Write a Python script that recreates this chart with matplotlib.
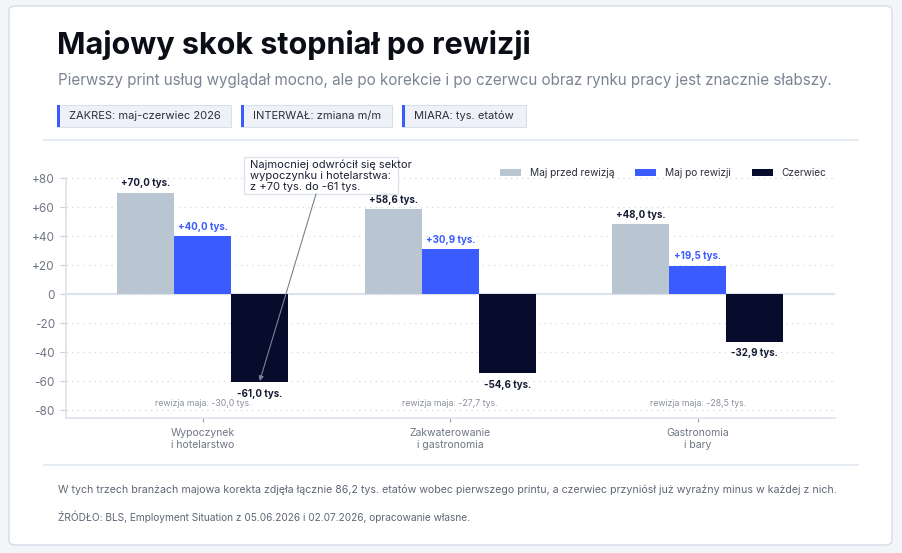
import matplotlib.pyplot as plt
import numpy as np
from matplotlib.patches import FancyBboxPatch, Rectangle

plt.rcParams['font.family'] = ['Inter', 'DejaVu Sans']

W, H = 902, 553

categories = ["Wypoczynek\ni hotelarstwo", "Zakwaterowanie\ni gastronomia", "Gastronomia\ni bary"]
may_before = [70.0, 58.6, 48.0]
may_after = [40.0, 30.9, 19.5]
june = [-61.0, -54.6, -32.9]
revision = [-30.0, -27.7, -28.5]
series_names = ["Maj przed rewizją", "Maj po rewizji", "Czerwiec"]
yticks = [80, 60, 40, 20, 0, -20, -40, -60, -80]
badges = ["ZAKRES: maj-czerwiec 2026", "INTERWAŁ: zmiana m/m", "MIARA: tys. etatów"]
callout = "Najmocniej odwrócił się sektor\nwypoczynku i hotelarstwa:\nz +70 tys. do -61 tys."

GRAY = "#b9c5d1"
BLUE = "#3a5bff"
NAVY = "#070b2c"
LINE = "#dde3ec"


def fx(px):
    return px / W


def fy(py):
    return 1 - py / H


def fmt(v):
    return f"{v:+.1f}".replace(".", ",") + " tys."


fig = plt.figure(figsize=(W / 100, H / 100), dpi=100)
fig.patch.set_facecolor("#f3f5f9")

# card
card = FancyBboxPatch((fx(9), fy(545)), fx(883), 539 / H, boxstyle="round,pad=0,rounding_size=0.008",
                      transform=fig.transFigure, facecolor="white", edgecolor="#d5dce7", linewidth=1,
                      zorder=-10)
fig.patches.append(card)

fig.text(fx(57), fy(45), "Majowy skok stopniał po rewizji", fontsize=22, fontweight="bold",
         color="#0b0d17", va="center")
fig.text(fx(58), fy(80), "Pierwszy print usług wyglądał mocno, ale po korekcie i po czerwcu obraz rynku pracy "
         "jest znacznie słabszy.", fontsize=10.95, color="#7c8493", va="center")

# badges
badge_x = [(57, 231), (241, 392), (402, 526)]
for (x0, x1), label in zip(badge_x, badges):
    fig.patches.append(Rectangle((fx(x0), fy(127)), fx(x1 - x0), 22 / H, transform=fig.transFigure,
                                 facecolor="#eef2f8", edgecolor="#d8dfea", linewidth=0.8))
    fig.patches.append(Rectangle((fx(x0), fy(127)), fx(3), 22 / H, transform=fig.transFigure,
                                 facecolor=BLUE, edgecolor="none"))
    fig.text(fx(x0 + 12), fy(116), label, fontsize=8, color="#2b2f3a", va="center")

# separators
for y in (140, 465):
    fig.add_artist(plt.Line2D([fx(44), fx(858)], [fy(y), fy(y)], color="#e6eaf1", linewidth=1.5))

# chart
ymin, ymax = -85.5, 81
x_left, x_right = 66, 835
y_zero_px = 294
scale = 1.45
top_px = y_zero_px - ymax * scale
bot_px = y_zero_px - ymin * scale
ax = fig.add_axes([fx(x_left), fy(bot_px), fx(x_right - x_left), (bot_px - top_px) / H])
ax.set_zorder(2)
ax.set_xlim(-0.553, 2.555)
ax.set_ylim(ymin, ymax)

x = np.arange(len(categories))
bw = 0.23
ax.bar(x - bw, may_before, bw, color=GRAY, label=series_names[0], zorder=3)
ax.bar(x, may_after, bw, color=BLUE, label=series_names[1], zorder=3)
ax.bar(x + bw, june, bw, color=NAVY, label=series_names[2], zorder=3)

for i in range(len(categories)):
    ax.annotate(fmt(may_before[i]), (x[i] - bw, may_before[i]), xytext=(0, 3.2), textcoords="offset points",
                ha="center", va="bottom", fontsize=7.0, fontweight="bold", color="#151a33")
    ax.annotate(fmt(may_after[i]), (x[i], may_after[i]), xytext=(0, 3.2), textcoords="offset points",
                ha="center", va="bottom", fontsize=7.0, fontweight="bold", color=BLUE)
    ax.annotate(fmt(june[i]), (x[i] + bw, june[i]), xytext=(0, -4.8), textcoords="offset points",
                ha="center", va="top", fontsize=7.0, fontweight="bold", color="#151a33")
    ax.text(x[i], -75.8, "rewizja maja: " + f"{revision[i]:.1f}".replace(".", ",") + " tys.",
            ha="center", va="center", fontsize=6.3, color="#8a909c")

ax.set_yticks(yticks)
ax.set_yticklabels([f"{v:+d}" if v != 0 else "0" for v in yticks])
ax.set_xticks(x)
ax.set_xticklabels(categories, linespacing=1.25)
ax.tick_params(axis="y", length=4, width=0.8, color="#c9d0db", labelsize=8.5, labelcolor="#6f7684", pad=4)
ax.tick_params(axis="x", length=3, width=0.8, color="#9aa1ad", labelsize=7.5, labelcolor="#6f7684", pad=4)
ax.yaxis.grid(True, color="#d4dae3", linestyle=(0, (1, 3.5)), linewidth=0.9, zorder=0)
ax.axhline(0, color=LINE, linewidth=1.5, zorder=2)
for s in ("top", "right"):
    ax.spines[s].set_visible(False)
for s in ("left", "bottom"):
    ax.spines[s].set_color(LINE)
    ax.spines[s].set_linewidth(1.2)
ax.spines["left"].set_bounds(ymin, 80)
ax.set_facecolor("none")

leg = ax.legend(loc="center right", bbox_to_anchor=(fx(826), fy(173)), bbox_transform=fig.transFigure,
                ncol=3, frameon=False, fontsize=7.3, handlelength=2.07, handleheight=0.76,
                columnspacing=2.07, handletextpad=0.85, borderpad=0, borderaxespad=0)
for t in leg.get_texts():
    t.set_color("#2b2f3a")

# callout box, text and arrow
ax.add_patch(Rectangle((fx(244), fy(194)), fx(154), 37 / H, transform=fig.transFigure, clip_on=False,
                       facecolor="white", edgecolor="#dde3ec", linewidth=1, zorder=6))
ax.text(fx(250), fy(175.5), callout, transform=fig.transFigure, ha="left", va="center", fontsize=8.0,
        color="#1c2033", linespacing=1.1, zorder=7)
ax.annotate("", xy=(x[0] + bw, june[0] + 1), xytext=(fx(316), fy(194)), textcoords="figure fraction",
            zorder=7, arrowprops=dict(arrowstyle="-|>", color="#7b828f", linewidth=0.8, mutation_scale=7,
                                      shrinkA=0, shrinkB=0))

fig.text(fx(58), fy(490), "W tych trzech branżach majowa korekta zdjęła łącznie 86,2 tys. etatów wobec "
         "pierwszego printu, a czerwiec przyniósł już wyraźny minus w każdej z nich.",
         fontsize=7.65, color="#5f6675", va="center")
fig.text(fx(58), fy(517), "ŹRÓDŁO: BLS, Employment Situation z 05.06.2026 i 02.07.2026, opracowanie własne.",
         fontsize=7.3, color="#5f6675", va="center")

fig.savefig("out.png", dpi=100, facecolor=fig.get_facecolor())
